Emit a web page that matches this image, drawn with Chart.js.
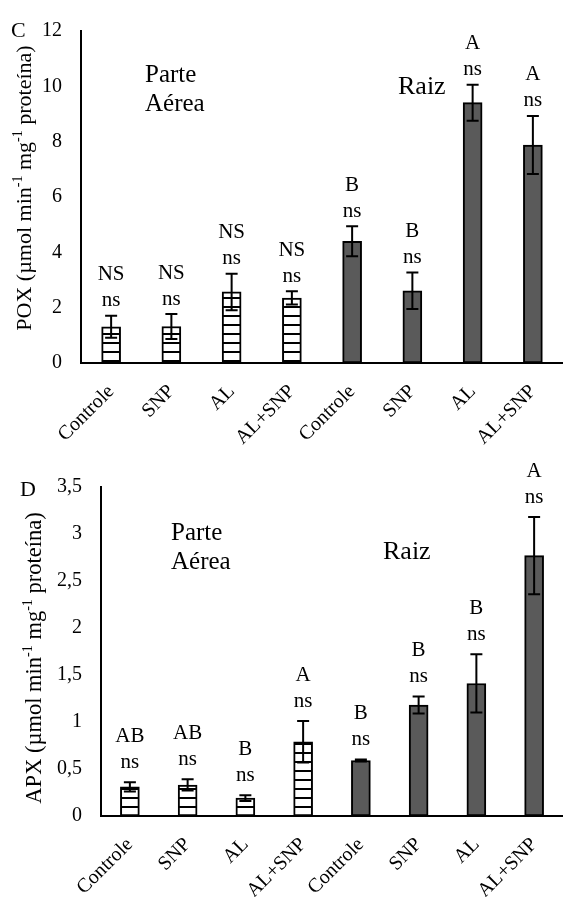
<!DOCTYPE html>
<html><head><meta charset="utf-8">
<script src="https://cdn.jsdelivr.net/npm/chart.js@4.4.0/dist/chart.umd.min.js"></script>
<style>
html,body{margin:0;padding:0;background:#fff;}
#wrap{position:relative;width:563px;height:897px;overflow:hidden;}
.c{position:absolute;left:0;width:563px;}
</style></head><body>
<div id="wrap">
<div class="c" style="top:0;height:455px"><canvas id="c1"></canvas></div>
<div class="c" style="top:455px;height:442px"><canvas id="c2"></canvas></div>
</div>
<script>
// ---------- data ----------
const categories = ['Controle','SNP','AL','AL+SNP','Controle','SNP','AL','AL+SNP'];

const poxValues = [1.31, 1.32, 2.57, 2.35, 4.40, 2.61, 9.41, 7.88];
const poxErrors = [0.40, 0.45, 0.66, 0.24, 0.54, 0.66, 0.65, 1.05];
const poxUpperLetters = ['NS','NS','NS','NS','B','B','A','A'];
const poxLowerLetters = ['ns','ns','ns','ns','ns','ns','ns','ns'];
const poxAxis = {min: 0, max: 12, step: 2};

const apxValues = [0.31, 0.33, 0.19, 0.79, 0.59, 1.18, 1.41, 2.77];
const apxErrors = [0.05, 0.06, 0.03, 0.22, 0.01, 0.09, 0.31, 0.41];
const apxUpperLetters = ['AB','AB','B','A','B','B','B','A'];
const apxLowerLetters = ['ns','ns','ns','ns','ns','ns','ns','ns'];
const apxAxis = {min: 0, max: 3.5, step: 0.5};

const partGroups = ['shoot','shoot','shoot','shoot','root','root','root','root'];
const groupLabels = {shoot: ['Parte', 'Aérea'], root: ['Raiz']};

// ---------- styles ----------
const SERIF = '"Liberation Serif", "Times New Roman", Times, serif';

function hatchPattern() {
  const c = document.createElement('canvas');
  c.width = 8; c.height = 9;
  const g = c.getContext('2d');
  g.fillStyle = '#ffffff'; g.fillRect(0, 0, 8, 9);
  g.fillStyle = '#000000'; g.fillRect(0, 0, 8, 2);
  return document.getElementById('c1').getContext('2d').createPattern(c, 'repeat');
}
const HATCH = hatchPattern();
const ROOT_FILL = '#5a5a5a';

const errorAndLetters = {
  id: 'errorAndLetters',
  afterDatasetsDraw(chart, args, opts) {
    const ctx = chart.ctx;
    const y = chart.scales.y;
    const meta = chart.getDatasetMeta(0);
    ctx.save();
    meta.data.forEach((bar, i) => {
      const v = opts.values[i], e = opts.errors[i];
      const top = y.getPixelForValue(v + e);
      const bot = y.getPixelForValue(v - e);
      ctx.strokeStyle = '#000'; ctx.lineWidth = 2;
      ctx.beginPath();
      ctx.moveTo(bar.x, top); ctx.lineTo(bar.x, bot);
      ctx.moveTo(bar.x - 6, top); ctx.lineTo(bar.x + 6, top);
      ctx.moveTo(bar.x - 6, bot); ctx.lineTo(bar.x + 6, bot);
      ctx.stroke();
      ctx.fillStyle = '#000';
      ctx.font = '21px ' + SERIF;
      ctx.textAlign = 'center'; ctx.textBaseline = 'middle';
      ctx.fillText(opts.lower[i], bar.x, top - opts.lowerOffset);
      ctx.fillText(opts.upper[i], bar.x, top - opts.upperOffset);
    });
    ctx.restore();
  }
};

const annotations = {
  id: 'annotations',
  afterDraw(chart, args, opts) {
    const ctx = chart.ctx;
    ctx.save();
    ctx.fillStyle = '#000';
    ctx.textAlign = 'left'; ctx.textBaseline = 'alphabetic';
    // panel letter
    ctx.font = '22px ' + SERIF;
    ctx.fillText(opts.panel, opts.panelX, opts.panelY);
    // group labels
    ctx.font = '25px ' + SERIF;
    groupLabels.shoot.forEach((t, k) => ctx.fillText(t, opts.shootX, opts.shootY + k * 29));
    ctx.font = '26px ' + SERIF;
    ctx.fillText(groupLabels.root[0], opts.rootX, opts.rootY);
    // rotated y-axis title with superscripts
    const size = opts.titleSize;
    const parts = opts.title;
    const fontOf = p => (p.sup ? Math.round(size * 0.62) : size) + 'px ' + SERIF;
    let total = 0;
    parts.forEach(p => { ctx.font = fontOf(p); total += ctx.measureText(p.t).width; });
    ctx.translate(opts.titleX, opts.titleY);
    ctx.rotate(-Math.PI / 2);
    let x = -total / 2;
    parts.forEach(p => {
      ctx.font = fontOf(p);
      ctx.fillText(p.t, x, size * 0.33 + (p.sup ? -size * 0.4 : 0));
      x += ctx.measureText(p.t).width;
    });
    ctx.restore();
  }
};

function makeChart(id, cfg) {
  const fills = partGroups.map(g => g === 'shoot' ? HATCH : ROOT_FILL);
  return new Chart(document.getElementById(id), {
    type: 'bar',
    data: {
      labels: categories,
      datasets: [{
        data: cfg.values,
        backgroundColor: fills,
        borderColor: '#000',
        borderWidth: 2,
        borderSkipped: false,
        barThickness: 19
      }]
    },
    options: {
      responsive: true,
      maintainAspectRatio: false,
      animation: false,
      devicePixelRatio: 1,
      layout: {padding: {top: cfg.padTop, right: 0, left: 0, bottom: 0}},
      plugins: {
        legend: {display: false},
        tooltip: {enabled: false},
        errorAndLetters: {
          values: cfg.values, errors: cfg.errors,
          upper: cfg.upper, lower: cfg.lower,
          lowerOffset: cfg.lowerOffset, upperOffset: cfg.upperOffset
        },
        annotations: cfg.ann
      },
      scales: {
        x: {
          grid: {display: false, drawTicks: false},
          border: {display: true, color: '#000', width: 2},
          ticks: {
            color: '#000', font: {family: SERIF, size: 20},
            maxRotation: 45, minRotation: 45, autoSkip: false, padding: cfg.xPad
          },
          afterFit(s) { s.height = cfg.xHeight; s.paddingLeft = 0; s.paddingRight = 0; }
        },
        y: {
          min: cfg.axis.min, max: cfg.axis.max,
          grid: {display: false, drawTicks: false},
          border: {display: true, color: '#000', width: 2},
          ticks: {
            stepSize: cfg.axis.step, color: '#000', padding: 19,
            font: {family: SERIF, size: 20},
            callback: v => String(v).replace('.', ',')
          },
          afterFit(s) { s.width = cfg.yWidth; }
        }
      }
    },
    plugins: [errorAndLetters, annotations]
  });
}

makeChart('c1', {
  values: poxValues, errors: poxErrors, upper: poxUpperLetters, lower: poxLowerLetters,
  axis: poxAxis, padTop: 30, xHeight: 92, yWidth: 81, xPad: 17,
  lowerOffset: 15, upperOffset: 41,
  ann: {
    panel: 'C', panelX: 11, panelY: 37,
    shootX: 145, shootY: 82, rootX: 398, rootY: 94,
    titleX: 24, titleY: 188, titleSize: 22,
    title: [{t: 'POX (µmol min'}, {t: '-1', sup: true}, {t: ' mg'}, {t: '-1', sup: true}, {t: ' proteína)'}]
  }
});

makeChart('c2', {
  values: apxValues, errors: apxErrors, upper: apxUpperLetters, lower: apxLowerLetters,
  axis: apxAxis, padTop: 32, xHeight: 81, yWidth: 101, xPad: 17,
  lowerOffset: 20, upperOffset: 46,
  ann: {
    panel: 'D', panelX: 20, panelY: 41,
    shootX: 171, shootY: 85, rootX: 383, rootY: 104,
    titleX: 34, titleY: 203, titleSize: 22.5,
    title: [{t: 'APX (µmol min'}, {t: '-1', sup: true}, {t: ' mg'}, {t: '-1', sup: true}, {t: ' proteína)'}]
  }
});
</script>
</body></html>
